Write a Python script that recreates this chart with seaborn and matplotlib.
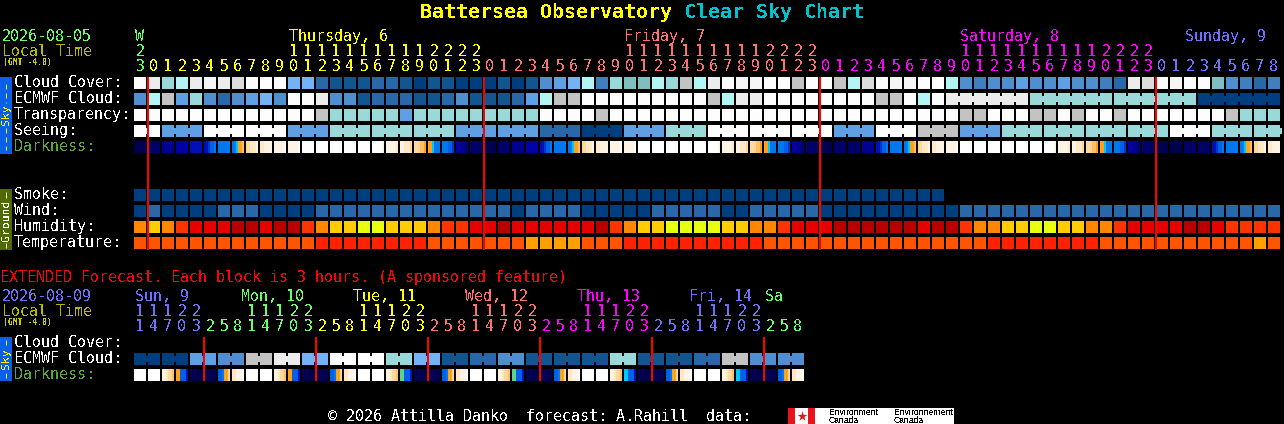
import numpy as np
import matplotlib
matplotlib.use("Agg")
import matplotlib.pyplot as plt
from matplotlib.colors import ListedColormap
from matplotlib.patches import Rectangle
import seaborn as sns

W, H = 1284, 424
sns.set_theme(style="dark", rc={"axes.grid": False})
plt.rcParams["font.family"] = ["DejaVu Sans Mono"]
plt.rcParams["text.antialiased"] = False

# ---------- colour scales ----------
cloud_colors = ["#003f7f", "#13558f", "#2868a8", "#3f7fbf", "#4f8fcf", "#5f9fe3", "#72b2f5",
                "#7fbfbf", "#99d9d9", "#b3f5f5", "#c3c3c3", "#dcdcdc", "#ececec", "#f5f5f5", "#fdfdfd"]
humid_colors = ["#ff8800", "#ffcc00", "#e8ff10", "#ff3300", "#e60000", "#b80000"]
temp_colors = ["#ff5500", "#ff2200", "#ffa000"]
dark_colors = ["#000050", "#000068", "#000090", "#0000a8", "#0010b8", "#0038cc", "#0060e6", "#0078f0",
               "#00c8ff", "#ffa020", "#ffc060", "#ffd8a0", "#ffe8c8", "#fff4e4", "#ffffff", "#60d090"]

# ---------- 82 hourly columns ----------
cloud_cover = [14,12,8,9,12,13,12,11,14,14,14,6,6,2,1,1,1,2,2,1,0,
               1,1,0,0,0,1,0,1,4,5,6,9,3,8,7,7,9,8,10,9,12,14,13,13,14,14,10,14,14,10,9,
               11,14,13,13,14,14,9,4,3,4,4,5,4,4,5,4,4,3,2,12,11,14,13,14,14,7,4,3,2,3]
ecmwf_cloud = [4,9,10,5,8,4,2,4,5,6,4,14,14,12,4,4,1,2,2,2,1,
               1,2,4,1,1,1,2,5,9,10,10,14,14,14,14,14,14,14,14,14,10,9,12,12,14,14,14,14,14,14,14,
               14,10,10,14,9,14,12,12,12,12,12,12,8,8,8,8,8,8,8,8,8,8,8,8,0,0,0,0,0,0]
transparency = [14,14,14,14,14,14,14,14,14,14,14,14,14,10,8,8,8,8,8,5,8,
                8,8,8,8,8,8,8,8,14,14,14,14,10,14,14,14,14,14,14,14,14,14,14,14,14,14,14,14,14,14,14,
                14,14,14,14,14,14,14,10,10,14,14,14,10,10,14,10,14,14,10,14,14,14,14,14,14,14,10,8,8,8]
seeing = [14,14,5,5,5,14,14,14,14,14,14,5,5,5,8,8,8,8,8,8,8,
          8,8,5,5,5,5,5,5,2,2,2,0,0,0,5,5,5,8,8,8,14,14,14,14,14,14,14,14,14,5,5,
          5,14,14,14,10,10,10,5,5,5,8,8,8,8,8,8,8,8,8,8,8,8,14,14,14,8,8,8,8,8]
darkness_codes = ("abcdefghijkkwwwwwlmnopqrb"
                  "abcdfghijkkwwwwwlmnopqrb"
                  "abbcfghijkwwwwwwlmnopqrb"
                  "aabbfghij")
smoke = [0,0,0,0,0,0,0,0,0,0,0,0,0,0,0,0,0,0,0,0,0,0,0,0,0,0,0,0,0,
         0,0,0,0,0,0,0,0,0,0,0,0,0,0,0,0,0,0,0,0,0,0,0,0,0,0,0,0,0,
         np.nan,np.nan,np.nan,np.nan,np.nan,np.nan,np.nan,np.nan,np.nan,np.nan,np.nan,np.nan,
         np.nan,np.nan,np.nan,np.nan,np.nan,np.nan,np.nan,np.nan,np.nan,np.nan,np.nan,np.nan]
wind = [0,2,0,0,0,0,2,2,2,0,0,0,0,2,2,2,2,2,2,2,2,
        2,2,2,2,2,2,0,2,2,2,2,0,0,0,0,0,2,2,2,2,2,0,0,2,2,2,2,2,0,0,0,
        0,0,0,0,0,0,0,2,2,2,2,2,2,2,2,2,2,2,2,2,2,2,2,2,2,2,2,2,2,2]
humidity = [0,1,0,3,4,4,4,5,5,4,5,5,3,0,1,1,2,2,1,1,1,
            0,3,3,4,4,5,4,4,4,4,4,4,5,3,0,1,1,2,2,2,2,1,1,0,0,3,4,4,4,5,5,
            5,5,5,5,4,5,5,3,0,0,1,1,2,2,1,1,0,0,3,4,4,4,4,5,5,4,3,3,3,3]
temperature = [0,0,0,0,0,0,0,0,0,0,0,0,0,1,1,1,1,1,1,1,1,
               0,0,0,0,0,0,0,2,2,2,2,0,0,0,1,1,1,1,1,1,1,1,1,1,0,0,0,0,0,0,0,
               0,0,0,0,0,0,0,0,0,1,1,1,1,1,1,1,1,0,0,0,0,0,0,0,0,0,0,0,2,0]
seeing_runs = [2,3,3,3,3,3,3,3,3,3,3,3,3,3,3,3,3,3,3,3,3,3,3,3,3,3,3,3]
ecmwf_runs = [1,1,1,1,1,1,1,1,1,1,1,1,1,1,1,1,1,1,1,1,1,1,1,1,1,1,1,1,1,
              1,1,1,1,1,1,1,1,1,1,1,1,1,1,1,1,1,1,1,1,1,1,1,1,1,1,1,1,1,6,6,6,6]

# ---------- 48 three-hour columns ----------
ext_ecmwf = [0,0,0,0,5,5,4,4,10,10,12,12,6,6,14,14,14,14,8,8,
             6,6,1,1,2,2,4,4,1,1,1,1,1,1,8,8,1,1,1,1,2,2,10,10,4,4,4,4]
ext_darkness_codes = "wwstaayzwwstaayzwwsuaayzwwsuaayzwwsxaayzwwsxaayz"
ext_runs = [2,2,2,2,2,2,2,2,2,2,2,2,2,2,2,2,2,2,2,2,2,2,2,2]

dark_tokens = {"a": (0,0,0,0), "b": (1,1,1,1), "c": (2,2,2,2), "d": (3,3,3,3), "e": (4,4,4,4),
               "f": (4,5,6,7), "g": (7,7,7,7), "h": (7,8,9,10), "i": (11,12,12,13), "j": (12,13,13,13),
               "k": (13,13,13,14), "w": (14,14,14,14), "l": (14,14,14,13), "m": (13,13,13,12),
               "n": (13,12,12,11), "o": (11,11,10,9), "p": (9,8,7,7), "q": (7,7,6,5), "r": (3,2,2,1),
               "s": (13,12,11,10), "t": (9,6,6,4), "u": (15,6,6,4), "x": (8,6,6,4),
               "y": (6,7,9,11), "z": (12,13,13,14)}

# ---------- header labels ----------
top_hours = [23,0,1,2,3,4,5,6,7,8,9,10,11,12,13,14,15,16,17,18,19,20,21,22,23,
             0,1,2,3,4,5,6,7,8,9,10,11,12,13,14,15,16,17,18,19,20,21,22,23,
             0,1,2,3,4,5,6,7,8,9,10,11,12,13,14,15,16,17,18,19,20,21,22,23,
             0,1,2,3,4,5,6,7,8]
top_hour_day = ["wed"]*1 + ["thu"]*24 + ["fri"]*24 + ["sat"]*24 + ["sun"]*9
top_days = [("W", 135, "wed"), ("Thursday, 6", 289, "thu"), ("Friday, 7", 624, "fri"),
            ("Saturday, 8", 960, "sat"), ("Sunday, 9", 1185, "sun")]
ext_hours = [11,14,17,20,23, 2,5,8,11,14,17,20,23, 2,5,8,11,14,17,20,23, 2,5,8,11,14,17,20,23,
             2,5,8,11,14,17,20,23, 2,5,8,11,14,17,20,23, 2,5,8]
ext_hour_day = ["sun"]*5 + ["mon"]*8 + ["tue"]*8 + ["wed2"]*8 + ["thu2"]*8 + ["fri2"]*8 + ["sat2"]*3
ext_days = [("Sun, 9", 135, "sun"), ("Mon, 10", 241, "mon"), ("Tue, 11", 353, "tue"), ("Wed, 12", 465, "wed2"),
            ("Thu, 13", 577, "thu2"), ("Fri, 14", 689, "fri2"), ("Sa", 765, "sat2")]
day_colors = {"wed": "#66ff66", "thu": "#ffff00", "fri": "#ff7070", "sat": "#ff00ff", "sun": "#7070ff",
              "mon": "#66ff66", "tue": "#ffff00", "wed2": "#ff7070", "thu2": "#ff00ff",
              "fri2": "#7070ff", "sat2": "#66ff66"}
midnight_cols = [1, 25, 49, 73]
ext_midnight_cols = [5, 13, 21, 29, 37, 45]

fig = plt.figure(figsize=(W / 100, H / 100), dpi=100, facecolor="black")
X0, PITCH = 134, 14
PX = 72 / 100


def row(values, colors, top, runs=None, sub=1, x0=X0):
    """One row of blocks: a seaborn heatmap plus the black gaps between blocks."""
    arr = np.asarray(values, dtype=float)
    n = arr.size // sub
    ax = fig.add_axes([x0 / W, 1 - (top + 12) / H, n * PITCH / W, 12 / H])
    ax.set_facecolor("black")
    sns.heatmap(arr[None, :], ax=ax, cmap=ListedColormap(colors), vmin=-0.5, vmax=len(colors) - 0.5,
                cbar=False, xticklabels=False, yticklabels=False)
    ax.axis("off")
    if runs is None:
        runs = [1] * n
    edges = np.cumsum(runs)
    for k in range(1, n + 1):
        x = (k - 1 / PITCH) * sub
        if k in edges:
            ax.vlines(x, 0, 1, color="black", lw=2 * PX, capstyle="butt")
        else:
            ax.vlines(x, 0, 0.25, color="black", lw=2 * PX, capstyle="butt")
            ax.vlines(x, 0.75, 1, color="black", lw=2 * PX, capstyle="butt")
    ax.set_xlim(0, n * sub)
    ax.set_ylim(1, 0)
    return ax


def dark_values(codes):
    out = []
    for c in codes:
        t = dark_tokens[c]
        out += [t[0], t[0], t[1], t[2], t[2], t[3], t[3]]
    return out


row(cloud_cover, cloud_colors, 77)
row(ecmwf_cloud, cloud_colors, 93, ecmwf_runs)
row(transparency, cloud_colors, 109)
row(seeing, cloud_colors, 125, seeing_runs)
row(dark_values(darkness_codes), dark_colors, 141, sub=7)
row(smoke, cloud_colors, 189)
row(wind, cloud_colors, 205)
row(humidity, humid_colors, 221)
row(temperature, temp_colors, 237)
row(ext_ecmwf, cloud_colors, 353, ext_runs)
row(dark_values(ext_darkness_codes), dark_colors, 369, sub=7)

# overlay in pixel units for texts, rules and side tags
ov = fig.add_axes([0, 0, 1, 1], zorder=10)
ov.set_xlim(0, W)
ov.set_ylim(H, 0)
ov.axis("off")
ov.patch.set_alpha(0)


def txt(x, y, s, color="white", px=15, **kw):
    kw.setdefault("va", "center")
    kw.setdefault("ha", "left")
    ov.text(x, y + 1.5, s, color=color, fontsize=px * PX, **kw)


for c in midnight_cols:
    x = X0 + PITCH * c
    ov.vlines(x, 77, 250, color="#ff0000", lw=2 * PX, capstyle="butt")
for c in ext_midnight_cols:
    x = X0 + PITCH * c
    ov.vlines(x, 337, 381, color="#ff0000", lw=2 * PX, capstyle="butt")

# title
txt(420, 11, "Battersea Observatory", "#ffff00", 20, fontweight="bold")
txt(684, 11, "Clear Sky Chart", "#00c4cc", 20, fontweight="bold")

# top header
txt(2, 35, "2026-08-05", "#66ff66")
txt(2, 50, "Local Time", "#b8b800")
txt(3, 61, "(GMT -4.0)", "#c8c800", 8, fontweight="bold")
for text, x, d in top_days:
    txt(x, 35, text, day_colors[d])
for i, (h, d) in enumerate(zip(top_hours, top_hour_day)):
    cx = X0 + PITCH * i + 6
    if h >= 10:
        txt(cx, 50, str(h // 10), day_colors[d], ha="center")
    txt(cx, 65, str(h % 10), day_colors[d], ha="center")

# row labels
for label, y, col in [("Cloud Cover:", 81, "white"), ("ECMWF Cloud:", 97, "white"), ("Transparency:", 113, "white"),
                      ("Seeing:", 129, "white"), ("Darkness:", 145, "#55aa33"),
                      ("Smoke:", 193, "white"), ("Wind:", 209, "white"), ("Humidity:", 225, "white"),
                      ("Temperature:", 241, "white"),
                      ("Cloud Cover:", 341, "white"), ("ECMWF Cloud:", 357, "white"), ("Darkness:", 373, "#55aa33")]:
    txt(14, y, label, col)

# side tags
for top, bottom, face, fg, name, center, segs in [
        (77, 154, "#0860e8", "#ffee00", "Sky", 115, [(84, 103), (128, 150)]),
        (189, 250, "#4f6b00", "#ffffff", "Ground", 220, [(192, 198), (243, 248)]),
        (337, 381, "#0860e8", "#ffee00", "Sky", 359, [(340, 345), (373, 378)])]:
    ov.add_patch(Rectangle((0, top), 12, bottom - top, facecolor=face, edgecolor="none"))
    ov.text(6, center, name, color=fg, fontsize=11.5 * PX,
            rotation=90, ha="center", va="center")
    for a, b in segs:
        ov.vlines(6, a, b, color=fg, lw=1 * PX, linestyles=(0, (5, 4)) if b - a > 10 else "solid")

# extended section
txt(0, 276, "EXTENDED Forecast. Each block is 3 hours. (A sponsored feature)", "#ff0000")
txt(2, 295, "2026-08-09", "#7070ff")
txt(2, 310, "Local Time", "#b8b800")
txt(3, 321, "(GMT -4.0)", "#c8c800", 8, fontweight="bold")
for text, x, d in ext_days:
    txt(x, 295, text, day_colors[d])
for i, (h, d) in enumerate(zip(ext_hours, ext_hour_day)):
    cx = X0 + PITCH * i + 6
    if h >= 10:
        txt(cx, 310, str(h // 10), day_colors[d], ha="center")
    txt(cx, 325, str(h % 10), day_colors[d], ha="center")

# footer
txt(328, 415, "\u00a9 2026 Attilla Danko  forecast: A.Rahill  data:", "white")
ov.add_patch(Rectangle((788, 408), 166, 16, facecolor="white", edgecolor="none"))
ov.add_patch(Rectangle((788, 408), 7, 16, facecolor="#e8141c", edgecolor="none"))
ov.add_patch(Rectangle((808, 408), 7, 16, facecolor="#e8141c", edgecolor="none"))
ov.scatter([801.5], [416], marker="*", s=55, color="#e8141c", linewidths=0)
for x, a in [(829, "Environment"), (894, "Environnement")]:
    ov.text(x, 412.5, a, color="black", fontsize=8.7 * PX, family="Liberation Sans", va="center")
    ov.text(x, 420.5, "Canada", color="black", fontsize=8.7 * PX, family="Liberation Sans", va="center")

fig.savefig("out.png", dpi=100, facecolor="black")
